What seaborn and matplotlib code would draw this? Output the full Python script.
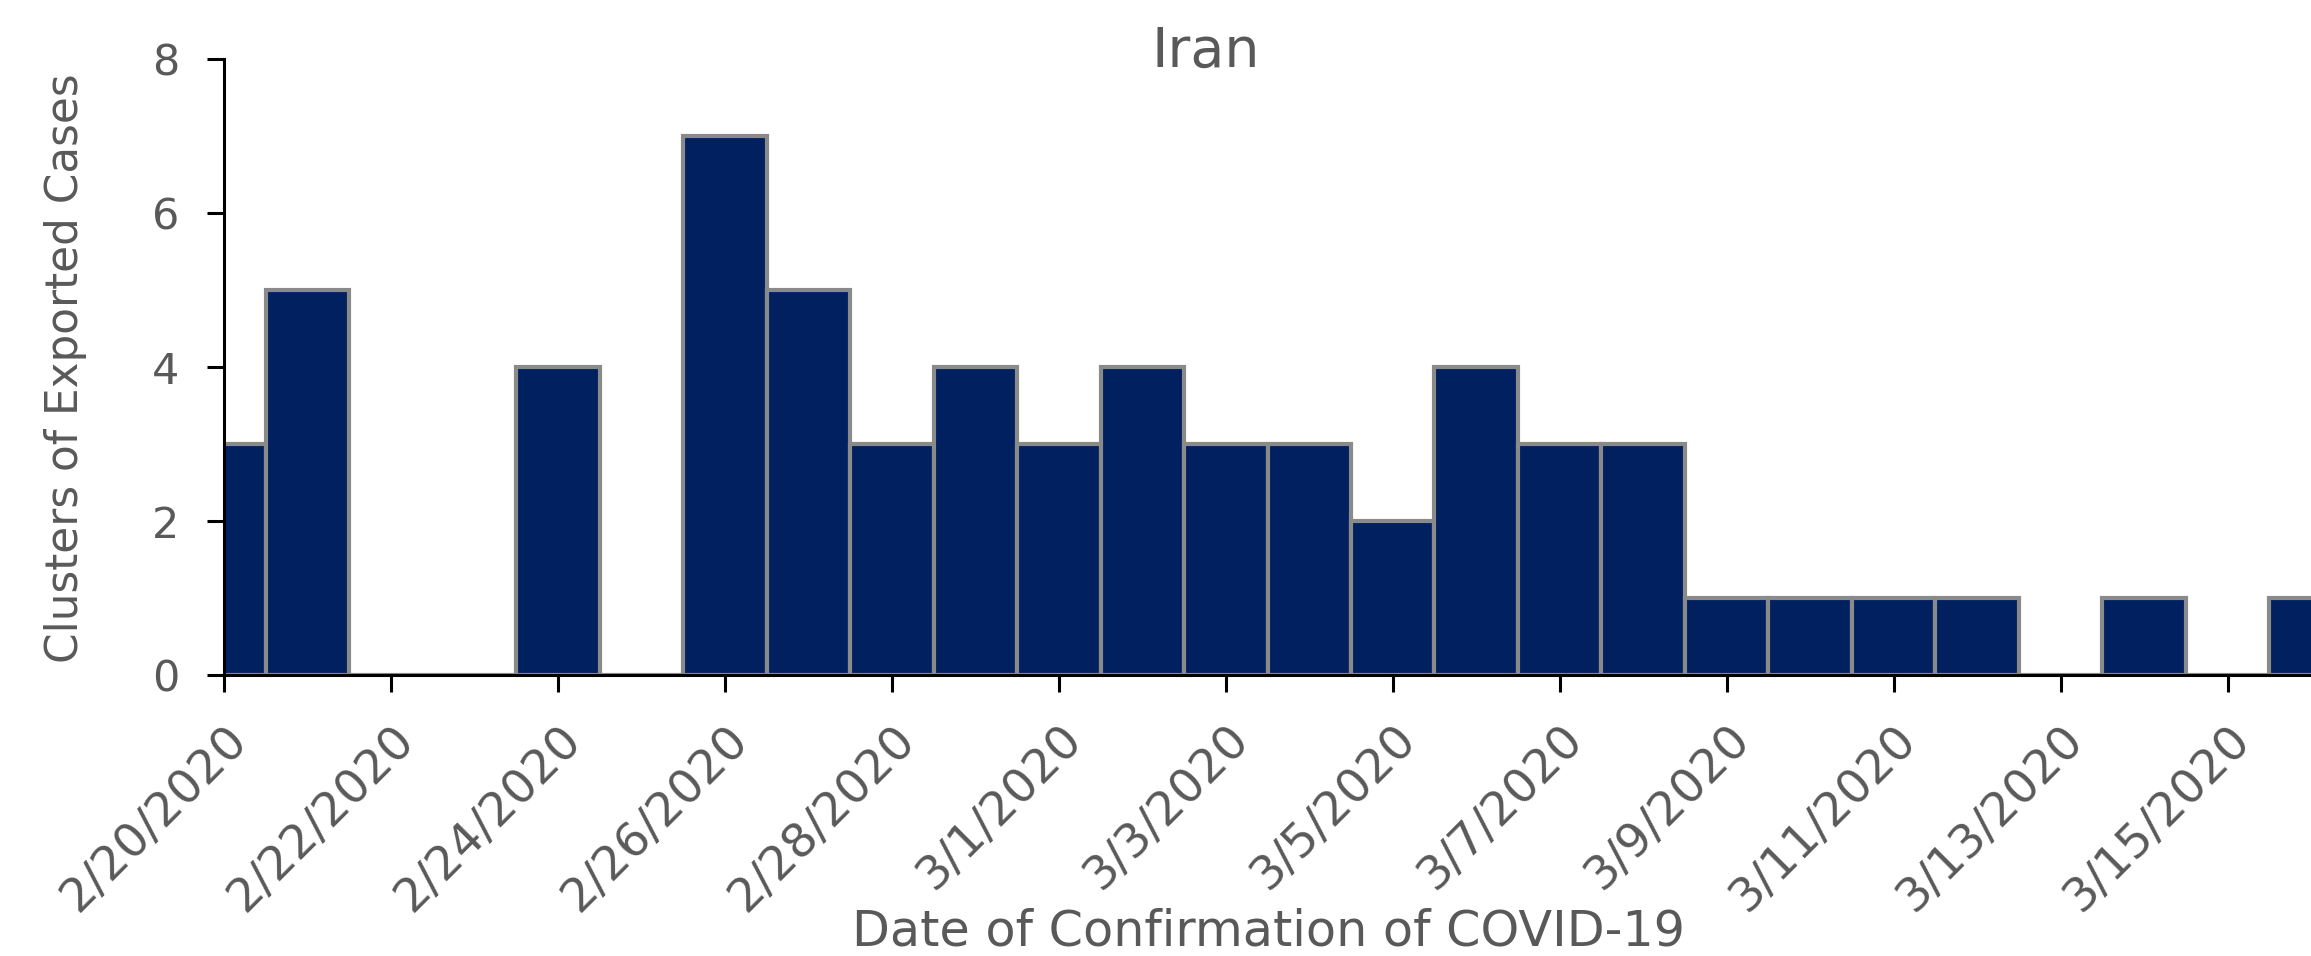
import matplotlib
matplotlib.use("Agg")
import matplotlib.pyplot as plt
import seaborn as sns
import pandas as pd

dates = ["2/20/2020", "2/21/2020", "2/22/2020", "2/23/2020", "2/24/2020", "2/25/2020",
         "2/26/2020", "2/27/2020", "2/28/2020", "2/29/2020", "3/1/2020", "3/2/2020",
         "3/3/2020", "3/4/2020", "3/5/2020", "3/6/2020", "3/7/2020", "3/8/2020",
         "3/9/2020", "3/10/2020", "3/11/2020", "3/12/2020", "3/13/2020", "3/14/2020",
         "3/15/2020", "3/16/2020"]
clusters = [3, 5, 0, 0, 4, 0, 7, 5, 3, 4, 3, 4, 3, 3, 2, 4, 3, 3, 1, 1, 1, 1, 0, 1, 0, 1]
yticks = [0, 2, 4, 6, 8]

title = "Iran"
xlabel = "Date of Confirmation of COVID-19"
ylabel = "Clusters of Exported Cases"

sns.set_theme(style="white")
plt.rcParams["font.family"] = ["DejaVu Sans"]

TEXT = "#595959"
W, H = 2311, 956
fig = plt.figure(figsize=(W / 100, H / 100), dpi=100)
ax = fig.add_axes([224 / W, 1 - 675 / H, 1 - 224 / W, (675 - 59) / H])

df = pd.DataFrame({"date": dates, "clusters": clusters})
sns.barplot(data=df, x="date", y="clusters", color="#002060", saturation=1,
            width=1.0, edgecolor="#8a8a8a", linewidth=3.0, ax=ax, zorder=2)

ax.set_xlim(0, len(dates) - 1)
ax.set_ylim(0, 8)
ax.set_yticks(yticks)
ax.set_yticklabels([str(v) for v in yticks])
xt = list(range(0, len(dates), 2))
ax.set_xticks(xt)
ax.set_xticklabels([dates[i] for i in xt], rotation=45, ha="right", va="top",
                   rotation_mode="anchor")

for s in ["top", "right"]:
    ax.spines[s].set_visible(False)
for s in ["left", "bottom"]:
    ax.spines[s].set_color("black")
    ax.spines[s].set_linewidth(2.2)
    ax.spines[s].set_zorder(5)
ax.tick_params(axis="both", direction="out", length=12, width=2.2, color="black",
               labelcolor=TEXT, bottom=True, left=True)
ax.tick_params(axis="y", pad=20, labelsize=31)
ax.tick_params(axis="x", pad=18, labelsize=34)
ax.set_xlabel("")
ax.set_ylabel("")
ax.grid(False)

fig.text(1206 / W, 1 - 52 / H, title, ha="center", va="center", fontsize=40, color=TEXT)
fig.text(1268 / W, 1 - 932 / H, xlabel, ha="center", va="center", fontsize=35.5, color=TEXT)
fig.text(66 / W, 1 - 368 / H, ylabel, ha="center", va="center", rotation=90,
         fontsize=31.5, color=TEXT)

fig.savefig("out.png", dpi=100)
